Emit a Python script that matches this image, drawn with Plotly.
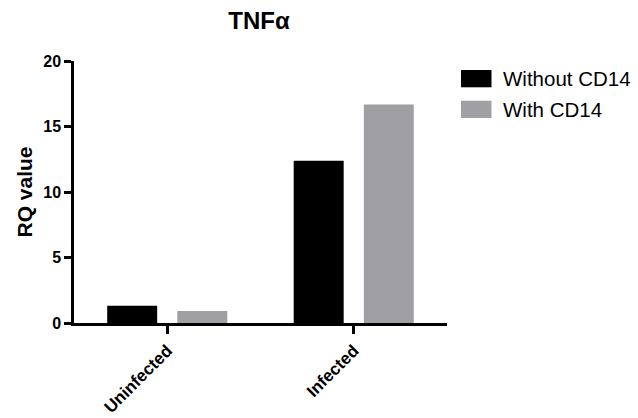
import plotly.graph_objects as go

# Data
categories = ["Uninfected", "Infected"]
series_names = ["Without CD14", "With CD14"]
without_cd14 = [1.32, 12.38]
with_cd14 = [0.92, 16.68]
series_values = [without_cd14, with_cd14]
series_colors = ["#000000", "#a09fa4"]
series_offsets = [-0.322, 0.054]
y_tickvals = [0, 5, 10, 15, 20]

FONT = "Liberation Sans, Arial, Helvetica, sans-serif"
BAR_W = 0.268

W, H = 638, 418
L, R, T, B = 74, 191, 61, 95

fig = go.Figure()
for name, vals, col, off in zip(series_names, series_values, series_colors, series_offsets):
    fig.add_trace(go.Bar(
        x=categories, y=vals, name=name,
        width=BAR_W, offset=off,
        marker=dict(color=col, line=dict(width=0)),
        showlegend=False,
    ))

# Legend drawn as rectangular swatches with labels to their right
plot_w = W - L - R
plot_h = H - T - B

def px_x(px):
    return (px - L) / plot_w

def px_y(py):
    return (H - B - py) / plot_h

shapes = []
annotations = []
for i, (name, col) in enumerate(zip(series_names, series_colors)):
    top = 70 + i * 30.7
    bot = top + 17.3
    shapes.append(dict(
        type="rect", xref="paper", yref="paper",
        x0=px_x(461), x1=px_x(491.5), y0=px_y(bot), y1=px_y(top),
        fillcolor=col, line=dict(width=0),
    ))
    annotations.append(dict(
        xref="paper", yref="paper", x=px_x(501), y=px_y((top + bot) / 2),
        text=name, showarrow=False, xanchor="left", yanchor="middle",
        font=dict(family=FONT, size=20.5, color="#000000"),
    ))

fig.update_layout(
    width=W, height=H,
    margin=dict(l=L, r=R, t=T, b=B, pad=0),
    paper_bgcolor="white", plot_bgcolor="white",
    barmode="overlay",
    title=dict(
        text="<b>TNFα</b>", x=259 / W, xanchor="center",
        y=1 - 21 / H, yanchor="middle",
        font=dict(family=FONT, size=24, color="#000000"),
    ),
    xaxis=dict(
        type="category", range=[-0.5, 1.5], automargin=False,
        showline=True, linecolor="#000000", linewidth=3,
        ticks="outside", ticklen=8, tickwidth=2.5, tickcolor="#000000",
        tickangle=-45, showgrid=False, zeroline=False,
        tickfont=dict(family=FONT, size=17, color="#000000", weight="bold"),
    ),
    yaxis=dict(
        range=[0, 20], tickvals=y_tickvals, automargin=False,
        showline=True, linecolor="#000000", linewidth=2.5,
        ticks="outside", ticklen=7, tickwidth=2.5, tickcolor="#000000",
        showgrid=False, zeroline=False,
        tickfont=dict(family=FONT, size=16, color="#000000", weight="bold"),
        title=dict(text="<b>RQ value</b>", standoff=5,
                   font=dict(family=FONT, size=21, color="#000000")),
    ),
    shapes=shapes,
    annotations=annotations,
)

fig.write_html("out.html")
